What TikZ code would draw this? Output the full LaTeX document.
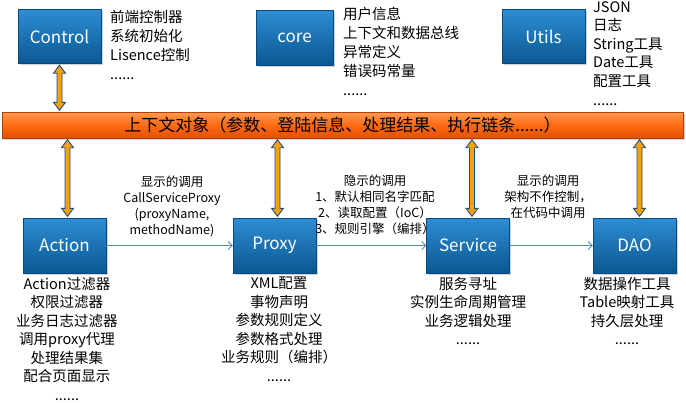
\documentclass[tikz,border=0pt]{standalone}
\usepackage{fontspec}
\setmainfont{Noto Sans CJK SC}
\usetikzlibrary{shadows,arrows.meta,calc}
\definecolor{boxtop}{HTML}{2E8DD3}
\definecolor{boxbot}{HTML}{0A5791}
\definecolor{bartop}{HTML}{FF9A50}
\definecolor{barmid}{HTML}{FF6A12}
\definecolor{barbot}{HTML}{E05006}
\definecolor{arrowfill}{HTML}{F5A00F}
\definecolor{arrowline}{HTML}{1B4F7A}
\definecolor{linkcol}{HTML}{4C8FC6}
\begin{document}
\begin{tikzpicture}[x=1pt,y=-1pt,
  bluebox/.style={minimum width=83pt,minimum height=54pt,top color=boxtop,bottom color=boxbot,
    draw=boxbot!85!black,line width=0.4pt,
    drop shadow={shadow xshift=1.5pt,shadow yshift=-1.5pt,opacity=0.35},
    text=white,font=\fontsize{17}{20}\selectfont,inner sep=0pt},
  barbox/.style={minimum width=681pt,minimum height=26pt,top color=bartop,bottom color=barbot,
    middle color=barmid,draw=barbot!80!black,line width=0.4pt,
    drop shadow={shadow xshift=1.5pt,shadow yshift=-1.5pt,opacity=0.35},
    font=\fontsize{17}{19}\selectfont,inner sep=0pt},
  fatarrow/.style={fill=arrowfill,draw=arrowline,line width=0.9pt,line join=miter,
    to path={let \p1=(\tikztostart), \p2=(\tikztotarget) in
      (\x1,\y1-1.5pt) -- (\x1-6pt,\y1-9.5pt) -- (\x1-2.5pt,\y1-9.5pt) -- (\x2-2.5pt,\y2+9.5pt)
      -- (\x2-6pt,\y2+9.5pt) -- (\x2,\y2+1.5pt) -- (\x2+6pt,\y2+9.5pt) -- (\x2+2.5pt,\y2+9.5pt)
      -- (\x1+2.5pt,\y1-9.5pt) -- (\x1+6pt,\y1-9.5pt) -- cycle}},
  sidetext/.style={font=\fontsize{14.5}{19}\selectfont,align=left,inner sep=0pt,anchor=north west},
  undertext/.style={font=\fontsize{14.5}{18.5}\selectfont,align=center,inner sep=0pt,anchor=north},
  lbl/.style={font=\fontsize{12.5}{16}\selectfont,align=center,inner sep=0pt,anchor=north},
  link/.style={draw=linkcol,line width=0.9pt,-{Straight Barb[length=4pt,width=8pt]}}
]
\useasboundingbox (0,0) rectangle (686,402);

% top row
\node[bluebox] (ctl) at (59.5,36.5) {Control};
\node[bluebox,minimum width=77pt,minimum height=55pt] (core) at (294.5,37.5) {core};
\node[bluebox] (utl) at (543.5,36.5) {Utils};

\node[sidetext] (ctlt) at (110,10) {前端控制器\\系统初始化\\Lisence控制\\......};
\node[sidetext] (coret) at (343,7) {用户信息\\上下文和数据总线\\异常定义\\错误码常量\\......};
\node[sidetext,font=\fontsize{14.5}{18.6}\selectfont] (utlt) at (593,1) {JSON\\日志\\String工具\\Date工具\\配置工具\\......};

% context bar
\node[barbox] (bar) at (342.5,125) {上下文对象（参数、登陆信息、处理结果、执行链条......）};

% bottom row
\node[bluebox,minimum height=55pt] (act) at (64.5,245.5) {Action};
\node[bluebox,minimum height=55pt] (prx) at (274.5,245.5) {Proxy};
\node[bluebox,minimum height=55pt] (svc) at (468,245.5) {Service};
\node[bluebox,minimum height=55pt] (dao) at (634.5,245.5) {DAO};

% fat double arrows
\path[fatarrow] (ctl.south) to (ctl.south |- bar.north);
\path[fatarrow] ([xshift=3pt]bar.south -| act.north) to ([xshift=3pt]act.north);
\path[fatarrow] ([xshift=3pt]bar.south -| prx.north) to ([xshift=3pt]prx.north);
\path[fatarrow] ([xshift=4pt]bar.south -| svc.north) to ([xshift=4pt]svc.north);
\path[fatarrow] ([xshift=5pt]bar.south -| dao.north) to ([xshift=5pt]dao.north);

% horizontal calls
\draw[link] (act) -- (prx);
\draw[link] (prx) -- (svc);
\draw[link] (svc) -- (dao);

\node[lbl] (l1) at (172,176) {显示的调用\\CallServiceProxy\\(proxyName,\\methodName)};
\node[lbl] (l2) at (375,175) {隐示的调用\\1、默认相同名字匹配\\2、读取配置（IoC）\\3、规则引擎（编排）};
\node[lbl] (l3) at (548,175) {显示的调用\\架构不作控制，\\在代码中调用};

% texts under boxes
\node[undertext] (actt) at (67,277) {Action过滤器\\权限过滤器\\业务日志过滤器\\调用proxy代理\\处理结果集\\配合页面显示\\......};
\node[undertext] (prxt) at (279,277) {XML配置\\事物声明\\参数规则定义\\参数格式处理\\业务规则（编排）\\......};
\node[undertext] (svct) at (468,277) {服务寻址\\实例生命周期管理\\业务逻辑处理\\......};
\node[undertext] (daot) at (627,277) {数据操作工具\\Table映射工具\\持久层处理\\......};
\end{tikzpicture}
\end{document}
